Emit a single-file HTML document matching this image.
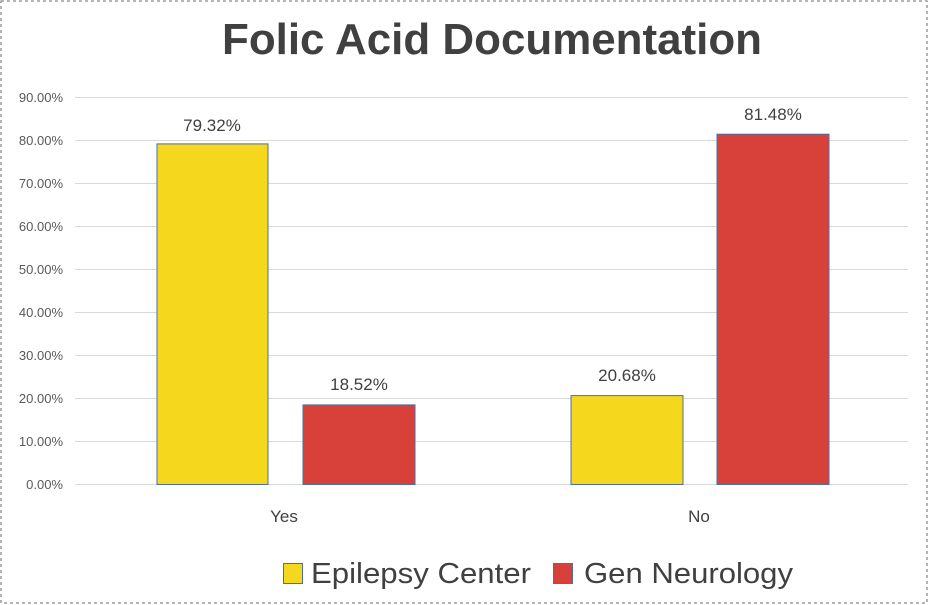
<!DOCTYPE html>
<html><head><meta charset="utf-8"><style>
html,body{margin:0;padding:0;background:#fff;}
svg{display:block;font-family:"Liberation Sans",sans-serif;}
</style></head><body>
<svg width="929" height="605" viewBox="0 0 929 605" xmlns="http://www.w3.org/2000/svg">
<rect x="1" y="1" width="926" height="602" fill="#fff" stroke="#8a8a8a" stroke-width="1.3" stroke-dasharray="3,3"/>
<text x="222" y="54" textLength="540" lengthAdjust="spacingAndGlyphs" font-size="44" font-weight="bold" fill="#404040">Folic Acid Documentation</text>
<g stroke="#d9d9d9" stroke-width="1">
<line x1="75" x2="908" y1="97.5" y2="97.5"/>
<line x1="75" x2="908" y1="140.5" y2="140.5"/>
<line x1="75" x2="908" y1="183.5" y2="183.5"/>
<line x1="75" x2="908" y1="226.5" y2="226.5"/>
<line x1="75" x2="908" y1="269.5" y2="269.5"/>
<line x1="75" x2="908" y1="312.5" y2="312.5"/>
<line x1="75" x2="908" y1="355.5" y2="355.5"/>
<line x1="75" x2="908" y1="398.5" y2="398.5"/>
<line x1="75" x2="908" y1="441.5" y2="441.5"/>
<line x1="75" x2="908" y1="484.5" y2="484.5"/>
</g>
<g font-size="13" fill="#595959" text-anchor="end">
<text x="63" y="102">90.00%</text>
<text x="63" y="145">80.00%</text>
<text x="63" y="188">70.00%</text>
<text x="63" y="231">60.00%</text>
<text x="63" y="274">50.00%</text>
<text x="63" y="317">40.00%</text>
<text x="63" y="360">30.00%</text>
<text x="63" y="403">20.00%</text>
<text x="63" y="446">10.00%</text>
<text x="63" y="489">0.00%</text>
</g>
<g stroke="#4a6fa5" stroke-width="1">
<rect x="157" y="143.9" width="111" height="340.6" fill="#f5d71e"/>
<rect x="303" y="404.9" width="112" height="79.6" fill="#d8403a"/>
<rect x="571" y="395.6" width="112" height="88.9" fill="#f5d71e"/>
<rect x="717" y="134.2" width="112" height="350.3" fill="#d8403a"/>
</g>
<g font-size="17" fill="#404040" text-anchor="middle">
<text x="212" y="131">79.32%</text>
<text x="359" y="390">18.52%</text>
<text x="627" y="381">20.68%</text>
<text x="773" y="120">81.48%</text>
<text x="284" y="522">Yes</text>
<text x="699" y="522">No</text>
</g>
<rect x="283.5" y="563.5" width="19" height="20" fill="#f5d71e" stroke="#4a6fa5"/>
<text x="311" y="583" font-size="29" textLength="220" lengthAdjust="spacingAndGlyphs" fill="#404040">Epilepsy Center</text>
<rect x="553.5" y="563.5" width="19" height="20" fill="#d8403a" stroke="#4a6fa5"/>
<text x="584" y="583" font-size="29" textLength="209" lengthAdjust="spacingAndGlyphs" fill="#404040">Gen Neurology</text>
</svg>
</body></html>
